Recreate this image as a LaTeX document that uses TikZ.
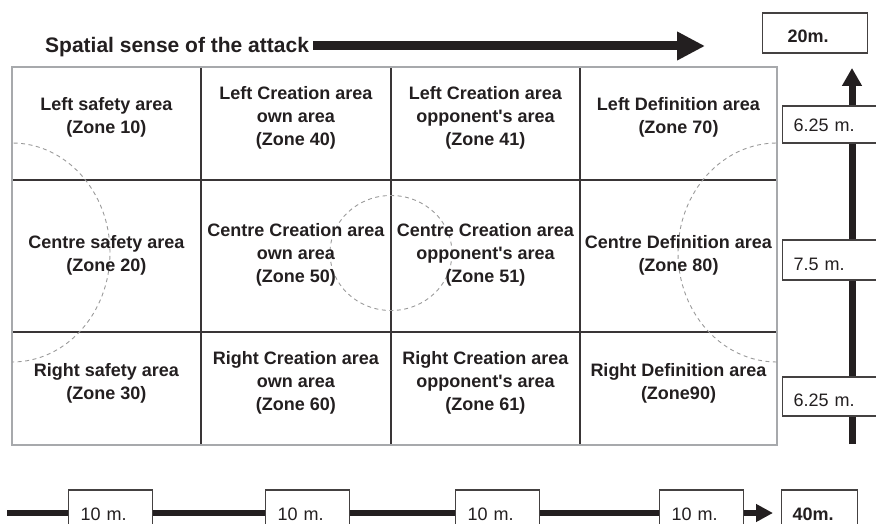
\documentclass[tikz,border=0pt]{standalone}
\usepackage{fontspec}
\setmainfont{Liberation Sans}
\usetikzlibrary{arrows.meta}
\definecolor{ink}{HTML}{231F20}
\definecolor{framec}{HTML}{A7A9AC}
\definecolor{dashc}{HTML}{9A9A9A}
\begin{document}
\begin{tikzpicture}[x=1pt,y=-1pt,
  zone/.style={align=center, text=ink, font=\fontsize{18}{23}\selectfont\bfseries, inner sep=0pt},
  gridline/.style={draw=ink!90, line width=1.2pt},
  dashline/.style={draw=dashc, dash pattern=on 4pt off 3.5pt, line width=0.9pt},
  mbox/.style={draw=ink!85, line width=1.2pt, fill=white, text=ink, font=\fontsize{18}{22}\selectfont, align=left, anchor=base west, inner ysep=0pt},
  barline/.style={draw=ink, line width=#1},
  barline/.default=6pt,
]
\useasboundingbox (0,0) rectangle (876,524);
\clip (0,0) rectangle (876,524);

% grid
\draw[gridline] (12,180) -- (777,180);
\draw[gridline] (12,332) -- (777,332);
\draw[gridline] (201,67) -- (201,445);
\draw[gridline] (391,67) -- (391,445);
\draw[gridline] (580,67) -- (580,445);
\draw[draw=framec, line width=1.5pt] (12,67) rectangle (777,445);

% dashed areas
\begin{scope}
  \clip (12,67) rectangle (777,445);
  \draw[dashline] (12,252.5) ellipse [x radius=98pt, y radius=109.5pt];
  \draw[dashline] (777,252.5) ellipse [x radius=99pt, y radius=109.5pt];
  \draw[dashline] (391,253) ellipse [x radius=61pt, y radius=57.5pt];
\end{scope}

% zones
\node[zone] (z10) at (106.5,117.5) {Left safety area\\(Zone 10)};
\node[zone] (z40) at (296,118) {Left Creation area\\own area\\(Zone 40)};
\node[zone] (z41) at (485.5,118) {Left Creation area\\opponent\textquotesingle s area\\(Zone 41)};
\node[zone] (z70) at (678.5,117.5) {Left Definition area\\(Zone 70)};
\node[zone] (z20) at (106.5,255) {Centre safety area\\(Zone 20)};
\node[zone] (z50) at (296,255) {Centre Creation area\\own area\\(Zone 50)};
\node[zone] (z51) at (485.5,255) {Centre Creation area\\opponent\textquotesingle s area\\(Zone 51)};
\node[zone] (z80) at (678.5,255) {Centre Definition area\\(Zone 80)};
\node[zone] (z30) at (106.5,383.5) {Right safety area\\(Zone 30)};
\node[zone] (z60) at (296,383) {Right Creation area\\own area\\(Zone 60)};
\node[zone] (z61) at (485.5,383) {Right Creation area\\opponent\textquotesingle s area\\(Zone 61)};
\node[zone] (z90) at (678.5,383.5) {Right Definition area\\(Zone90)};

% top arrow
\node[anchor=base west, inner sep=0pt, text=ink, font=\fontsize{21}{25}\selectfont\bfseries] (title) at (45,53) {Spatial sense of the attack};
\coordinate (tS) at (313,46);
\coordinate (tE) at (705,46);
\draw[barline=9pt, -{Triangle[length=28pt, width=27pt]}] (tS) -- (tE);
\node[mbox, font=\fontsize{18}{22}\selectfont\bfseries, inner xsep=25pt, text width=55pt, text height=30pt, text depth=10pt] (m20) at (762,43) {20m.};

% vertical arrow
\coordinate (vS) at (852,444);
\coordinate (vE) at (852,68);
\draw[barline=7pt, -{Triangle[length=18pt, width=19pt]}] (vS) -- (vE);
\node[mbox, inner xsep=11pt, text width=80pt, text height=26pt, text depth=11pt] (v1) at (782,132) {6.25 m.};
\node[mbox, inner xsep=11pt, text width=80pt, text height=30pt, text depth=10pt] (v2) at (782,270) {7.5 m.};
\node[mbox, inner xsep=11pt, text width=80pt, text height=29pt, text depth=10pt] (v3) at (782,406) {6.25 m.};

% bottom arrow
\coordinate (hS) at (7,513);
\coordinate (hE) at (773,513);
\draw[barline=6pt, -{Triangle[length=17pt, width=17pt]}] (hS) -- (hE);
\node[mbox, inner xsep=12pt, text width=60pt, text height=30pt, text depth=20pt] (h1) at (68,520) {10 m.};
\node[mbox, inner xsep=12pt, text width=60pt, text height=30pt, text depth=20pt] (h2) at (265,520) {10 m.};
\node[mbox, inner xsep=12pt, text width=60pt, text height=30pt, text depth=20pt] (h3) at (455,520) {10 m.};
\node[mbox, inner xsep=12pt, text width=60pt, text height=30pt, text depth=20pt] (h4) at (659,520) {10 m.};
\node[mbox, font=\fontsize{18}{22}\selectfont\bfseries, inner xsep=11pt, text width=54pt, text height=30pt, text depth=20pt] (h40) at (781,520) {40m.};
\end{tikzpicture}
\end{document}
